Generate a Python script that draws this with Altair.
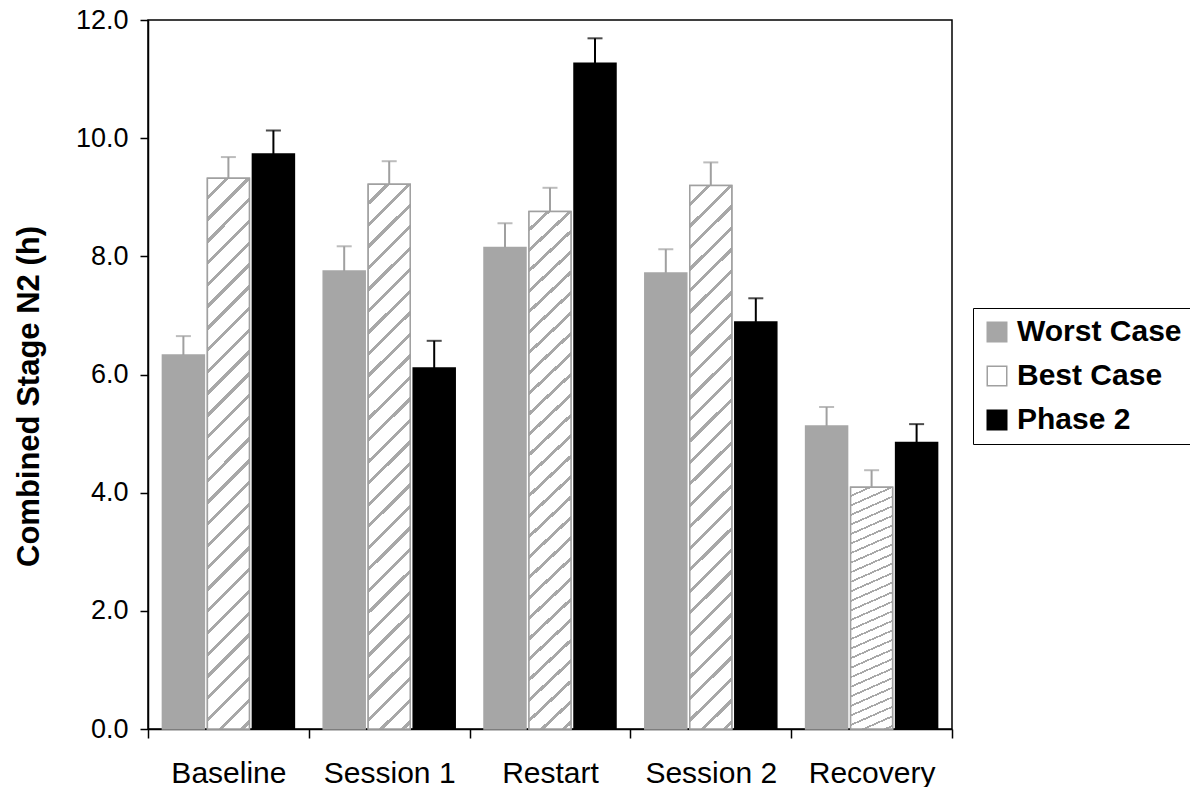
import altair as alt
import pandas as pd

categories = ["Baseline", "Session 1", "Restart", "Session 2", "Recovery"]
series = ["Worst Case", "Best Case", "Phase 2"]
worst = [6.33, 7.75, 8.15, 7.72, 5.13]
worst_top = [6.65, 8.17, 8.56, 8.12, 5.45]
best = [9.32, 9.22, 8.76, 9.20, 4.09]
best_top = [9.68, 9.61, 9.16, 9.59, 4.38]
phase2 = [9.73, 6.11, 11.27, 6.89, 4.85]
phase2_top = [10.13, 6.57, 11.69, 7.29, 5.16]

rows = []
for s, vals, tops in [("Worst Case", worst, worst_top),
                      ("Best Case", best, best_top),
                      ("Phase 2", phase2, phase2_top)]:
    for c, v, t in zip(categories, vals, tops):
        rows.append({"cat": c, "series": s, "value": v, "top": t})
df = pd.DataFrame(rows)

FONT = "Liberation Sans"
fill_range = ["#a6a6a6", "#ffffff", "#000000"]
stroke_range = ["#a6a6a6", "#a0a0a0", "#000000"]
err_range = ["#a0a0a0", "#a0a0a0", "#000000"]

x_enc = alt.X("cat:N", sort=categories, title=None,
              scale=alt.Scale(paddingInner=0, paddingOuter=0),
              axis=alt.Axis(labelAngle=0, labelFont=FONT, labelFontSize=30,
                            labelColor="black", labelPadding=20, tickSize=9,
                            tickBand="extent", tickColor="black", tickWidth=1.5,
                            domainColor="black", domainWidth=1.5))
xoff = alt.XOffset("series:N", sort=series,
                   scale=alt.Scale(domain=series, paddingInner=0.067, paddingOuter=0.32))
y_enc = alt.Y("value:Q", title="Combined Stage N2 (h)",
              scale=alt.Scale(domain=[0, 12], nice=False),
              axis=alt.Axis(values=[0, 2, 4, 6, 8, 10, 12], format=".1f", grid=False,
                            labelFont=FONT, labelFontSize=27, labelColor="black",
                            labelPadding=12, tickSize=8, tickColor="black", tickWidth=1.5,
                            domainColor="black", domainWidth=1.5,
                            titleFont=FONT, titleFontSize=31, titleFontWeight="bold",
                            titleColor="black", titlePadding=30, titleY=376))

legend = alt.Legend(title=None, orient="none", legendX=825, legendY=288,
                    labelFont=FONT, labelFontSize=30, labelFontWeight="bold",
                    labelColor="black", symbolType="square", symbolSize=380,
                    symbolStrokeWidth=1.5, symbolStrokeColor="#a0a0a0",
                    labelOffset=5, rowPadding=14,
                    padding=9, strokeColor="black", symbolOpacity=1, labelLimit=400)

base = alt.Chart(df)

bars = base.mark_bar(strokeWidth=1.5).encode(
    x=x_enc, xOffset=xoff, y=y_enc,
    fill=alt.Fill("series:N", sort=series,
                  scale=alt.Scale(domain=series, range=fill_range), legend=legend),
    stroke=alt.Stroke("series:N", sort=series,
                      scale=alt.Scale(domain=series, range=stroke_range), legend=None),
)

stops = []
N = 28
for i in range(N):
    stops.append(alt.GradientStop(color="#ffffff", offset=i / N))
    stops.append(alt.GradientStop(color="#ffffff", offset=(i + 0.8) / N))
    stops.append(alt.GradientStop(color="#a8a8a8", offset=(i + 0.8) / N))
    stops.append(alt.GradientStop(color="#a8a8a8", offset=(i + 1) / N))

hatch = base.transform_filter(alt.datum.series == "Best Case").mark_bar(
    color=alt.LinearGradient(gradient="linear", stops=stops,
                             x1=0, y1=0, x2=0.084, y2=1.1),
    stroke="#a0a0a0", strokeWidth=1.5,
).encode(x=x_enc, xOffset=xoff, y=y_enc)

err = base.mark_rule(strokeWidth=2).encode(
    x=x_enc, xOffset=xoff, y="value:Q", y2="top:Q",
    color=alt.Color("series:N", sort=series,
                    scale=alt.Scale(domain=series, range=err_range), legend=None),
)
caps = base.mark_tick(thickness=2, size=15).encode(
    x=x_enc, xOffset=xoff, y="top:Q",
    color=alt.Color("series:N", sort=series,
                    scale=alt.Scale(domain=series, range=err_range), legend=None),
)

chart = alt.layer(bars, hatch, err, caps).properties(
    width=804, height=709,
    autosize=alt.AutoSizeParams(type="none"),
    padding={"left": 140, "top": 12, "right": 238, "bottom": 58},
).configure(background="white", view=alt.ViewConfig(stroke="black", strokeWidth=1.5))

chart.save("out.html", embed_options={"renderer": "svg", "actions": False})
